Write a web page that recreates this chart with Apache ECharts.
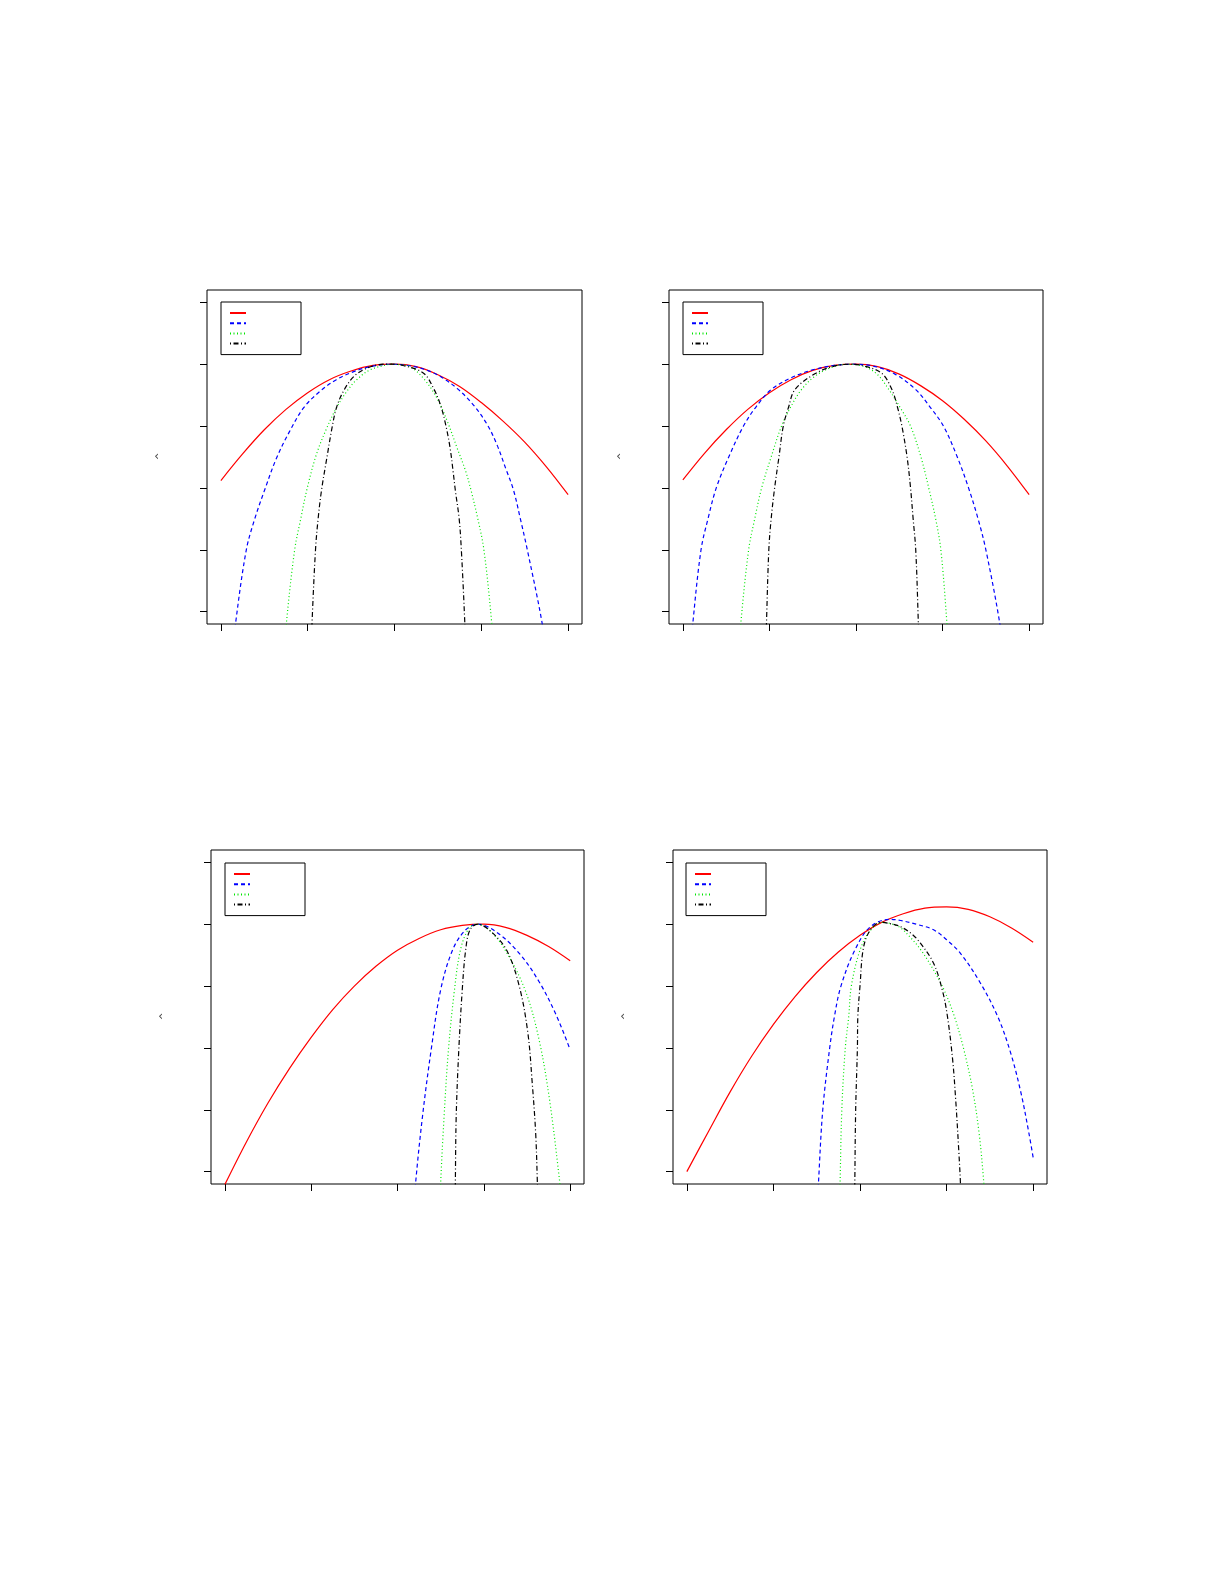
<!DOCTYPE html>
<html><head><meta charset="utf-8">
<script src="https://cdn.jsdelivr.net/npm/echarts@6/dist/echarts.min.js"></script>
<style>html,body{margin:0;padding:0;background:#fff}#c{width:1225px;height:1585px}</style>
</head><body><div id="c"></div>
<script>
// tick positions (labels are not shown in the reference)
const xTicks = [0, 1, 2, 3, 4];
const yTicks = [-4, -3, -2, -1, 0, 1];
const seriesNames = ['s1', 's2', 's3', 's4'];
const yAxisLabel = '‹';

// Panel 1 (top left)
const p1Red = [[0,-1.88],[0.25,-1.45],[0.5,-1.06],[0.75,-0.73],[1.0,-0.46],[1.25,-0.25],[1.5,-0.11],[1.75,-0.02],[2.0,0],[2.25,-0.04],[2.5,-0.17],[2.75,-0.36],[3.0,-0.62],[3.25,-0.92],[3.5,-1.26],[3.75,-1.66],[4.0,-2.11]];
const p1Blue = [[0.155,-4.5],[0.17,-4.18],[0.293,-3.0],[0.39,-2.5],[0.505,-2.03],[0.64,-1.52],[0.79,-1.09],[0.95,-0.71],[1.14,-0.44],[1.33,-0.25],[1.53,-0.12],[1.72,-0.04],[1.97,0],[2.2,-0.03],[2.38,-0.1],[2.53,-0.2],[2.72,-0.39],[2.91,-0.66],[3.07,-0.98],[3.18,-1.3],[3.28,-1.68],[3.37,-2.03],[3.45,-2.5],[3.53,-3.0],[3.70,-4.18],[3.72,-4.5]];
const p1Green = [[0.745,-4.5],[0.755,-4.18],[0.85,-3.0],[0.92,-2.5],[0.99,-2.03],[1.10,-1.46],[1.22,-1.03],[1.33,-0.71],[1.45,-0.44],[1.565,-0.25],[1.72,-0.09],[1.91,-0.01],[1.97,0],[2.05,-0.005],[2.18,-0.04],[2.335,-0.23],[2.49,-0.55],[2.61,-0.93],[2.72,-1.35],[2.82,-1.73],[2.88,-2.03],[2.96,-2.5],[3.03,-3.0],[3.12,-4.18],[3.13,-4.5]];
const p1Black = [[1.045,-4.5],[1.05,-4.18],[1.09,-3.0],[1.12,-2.5],[1.16,-2.03],[1.22,-1.52],[1.28,-1.03],[1.33,-0.71],[1.41,-0.44],[1.53,-0.2],[1.68,-0.065],[1.87,0],[1.97,0],[2.1,-0.02],[2.335,-0.145],[2.45,-0.39],[2.53,-0.66],[2.59,-0.98],[2.64,-1.35],[2.675,-1.73],[2.70,-2.03],[2.745,-2.5],[2.77,-3.0],[2.81,-4.18],[2.815,-4.5]];

// Panel 2 (top right)
const p2Red = [[0,-1.87],[0.25,-1.44],[0.5,-1.06],[0.75,-0.73],[1.0,-0.46],[1.25,-0.25],[1.5,-0.1],[1.75,-0.02],[2.0,0],[2.25,-0.04],[2.5,-0.16],[2.75,-0.35],[3.0,-0.59],[3.25,-0.89],[3.5,-1.24],[3.75,-1.65],[4.0,-2.11]];
const p2Blue = [[0.105,-4.5],[0.116,-4.18],[0.21,-3.0],[0.29,-2.5],[0.386,-2.0],[0.53,-1.5],[0.70,-1.0],[0.85,-0.68],[1.02,-0.41],[1.25,-0.22],[1.5,-0.09],[1.75,-0.02],[1.95,0],[2.2,-0.03],[2.45,-0.16],[2.69,-0.41],[2.86,-0.7],[3.01,-1.0],[3.17,-1.5],[3.30,-2.0],[3.41,-2.5],[3.50,-3.0],[3.66,-4.18],[3.68,-4.5]];
const p2Green = [[0.66,-4.5],[0.67,-4.18],[0.76,-3.0],[0.83,-2.5],[0.91,-2.0],[1.02,-1.5],[1.14,-1.0],[1.25,-0.68],[1.37,-0.41],[1.52,-0.2],[1.7,-0.06],[1.91,0],[2.1,-0.04],[2.25,-0.17],[2.38,-0.41],[2.51,-0.7],[2.63,-1.0],[2.75,-1.5],[2.84,-2.0],[2.92,-2.5],[2.98,-3.0],[3.05,-4.18],[3.06,-4.5]];
const p2Black = [[0.96,-4.5],[0.966,-4.18],[0.993,-3.0],[1.02,-2.5],[1.06,-2.0],[1.11,-1.5],[1.16,-1.0],[1.22,-0.7],[1.295,-0.41],[1.53,-0.15],[1.75,-0.03],[1.93,0],[2.1,-0.03],[2.30,-0.15],[2.415,-0.41],[2.48,-0.7],[2.53,-1.0],[2.59,-1.5],[2.63,-2.0],[2.66,-2.5],[2.69,-3.0],[2.72,-4.18],[2.725,-4.5]];

// Panel 3 (bottom left)
const p3Red = [[0,-4.21],[0.25,-3.52],[0.5,-2.89],[0.75,-2.33],[1.0,-1.83],[1.25,-1.38],[1.5,-1.0],[1.75,-0.68],[2.0,-0.42],[2.25,-0.23],[2.5,-0.09],[2.75,-0.02],[3.0,0],[3.25,-0.05],[3.5,-0.18],[3.75,-0.36],[4.0,-0.59]];
const p3Blue = [[2.2,-4.5],[2.21,-4.18],[2.29,-3.10],[2.39,-2.03],[2.50,-1.06],[2.64,-0.41],[2.79,-0.09],[2.93,0],[3.14,-0.12],[3.41,-0.47],[3.64,-0.93],[3.835,-1.46],[4.0,-2.03]];
const p3Green = [[2.495,-4.5],[2.50,-4.18],[2.54,-3.10],[2.59,-2.03],[2.66,-1.06],[2.73,-0.41],[2.83,-0.06],[2.93,0],[3.10,-0.145],[3.29,-0.52],[3.49,-1.11],[3.64,-1.87],[3.76,-2.83],[3.88,-4.18],[3.9,-4.5]];
const p3Black = [[2.668,-4.5],[2.67,-4.18],[2.68,-3.10],[2.71,-2.03],[2.75,-1.06],[2.79,-0.41],[2.84,-0.09],[2.93,0],[3.06,-0.09],[3.26,-0.41],[3.41,-1.0],[3.51,-1.76],[3.56,-2.56],[3.60,-3.37],[3.62,-4.18],[3.625,-4.5]];

// Panel 4 (bottom right)
const p4Red = [[0,-4.0],[0.25,-3.35],[0.5,-2.71],[0.75,-2.13],[1.0,-1.62],[1.25,-1.17],[1.5,-0.78],[1.75,-0.45],[2.0,-0.18],[2.25,0.03],[2.5,0.17],[2.75,0.26],[3.0,0.28],[3.25,0.24],[3.5,0.12],[3.75,-0.06],[4.0,-0.29]];
const p4Blue = [[1.51,-4.5],[1.52,-4.19],[1.57,-3.0],[1.65,-2.0],[1.705,-1.49],[1.78,-1.0],[1.94,-0.42],[2.12,-0.04],[2.35,0.08],[2.47,0.06],[2.65,0.0],[2.85,-0.09],[3.0,-0.25],[3.16,-0.47],[3.39,-0.95],[3.59,-1.49],[3.74,-2.08],[3.86,-2.73],[3.95,-3.37],[4.0,-3.77]];
const p4Green = [[1.765,-4.5],[1.77,-4.19],[1.79,-3.0],[1.83,-2.0],[1.87,-1.49],[1.90,-1.0],[2.0,-0.42],[2.12,-0.1],[2.26,0.03],[2.38,0.0],[2.47,-0.06],[2.58,-0.21],[2.70,-0.41],[2.85,-0.74],[2.97,-1.06],[3.09,-1.49],[3.20,-2.03],[3.30,-2.67],[3.375,-3.37],[3.43,-4.18],[3.44,-4.5]];
const p4Black = [[1.938,-4.5],[1.94,-4.19],[1.95,-3.0],[1.97,-2.0],[1.975,-1.49],[2.0,-1.0],[2.04,-0.38],[2.12,-0.09],[2.24,0.03],[2.38,0.0],[2.47,-0.04],[2.60,-0.16],[2.70,-0.31],[2.85,-0.63],[2.95,-1.06],[3.01,-1.49],[3.07,-2.19],[3.105,-2.83],[3.14,-3.64],[3.16,-4.18],[3.165,-4.5]];

const panelData = [
  [p1Red, p1Blue, p1Green, p1Black],
  [p2Red, p2Blue, p2Green, p2Black],
  [p3Red, p3Blue, p3Green, p3Black],
  [p4Red, p4Blue, p4Green, p4Black]
];

// layout / style (not data)
const grids = [
  {left: 207, top: 290, width: 375, height: 334},
  {left: 669, top: 290, width: 374, height: 334},
  {left: 211, top: 850, width: 373, height: 334},
  {left: 673, top: 850, width: 374, height: 334}
];
const legendPos = [
  {left: 221, top: 302},
  {left: 683, top: 302},
  {left: 225, top: 863},
  {left: 686, top: 863}
];
const lineStyles = [
  {color: '#ff0000', type: 'solid'},
  {color: '#0000ff', type: [4, 3]},
  {color: '#00e600', type: [1, 2.5]},
  {color: '#000000', type: [1, 2.5, 5, 2.5]}
];

const option = {
  backgroundColor: '#ffffff',
  animation: false,
  grid: [], xAxis: [], yAxis: [], series: [], legend: []
};

grids.forEach((g, i) => {
  option.grid.push(Object.assign({show: true, borderColor: '#000', borderWidth: 1, backgroundColor: 'transparent'}, g));
  option.xAxis.push({
    type: 'value', gridIndex: i, min: -0.16, max: 4.16, position: 'bottom',
    axisLine: {show: false, onZero: false},
    axisTick: {show: true, length: 7, customValues: xTicks, lineStyle: {color: '#000', width: 1}},
    axisLabel: {show: false}, splitLine: {show: false}
  });
  option.yAxis.push({
    type: 'value', gridIndex: i, min: -4.2, max: 1.2, position: 'left',
    name: yAxisLabel, nameLocation: 'middle', nameGap: 48, nameRotate: 0,
    nameTextStyle: {color: '#444', fontSize: 12, fontFamily: 'DejaVu Sans'},
    axisLine: {show: false, onZero: false},
    axisTick: {show: true, length: 7, customValues: yTicks, lineStyle: {color: '#000', width: 1}},
    axisLabel: {show: false}, splitLine: {show: false}
  });
  panelData[i].forEach((d, k) => {
    option.series.push({
      type: 'line', name: seriesNames[k], xAxisIndex: i, yAxisIndex: i,
      data: d, showSymbol: false, symbol: 'none', smooth: 0.35,
      clip: true,
      lineStyle: {color: lineStyles[k].color, type: lineStyles[k].type, width: 1.2},
      itemStyle: {color: lineStyles[k].color}
    });
  });
  option.legend.push({
    orient: 'vertical', left: legendPos[i].left, top: legendPos[i].top,
    padding: [6, 50, 6, 8], itemWidth: 16, itemHeight: 12.5, itemGap: 0.2,
    borderColor: '#000', borderWidth: 1, borderRadius: 0,
    selectedMode: false,
    itemStyle: {color: 'rgba(0,0,0,0)', borderColor: 'rgba(0,0,0,0)', borderWidth: 0, opacity: 0},
    formatter: function () { return ''; },
    textStyle: {fontSize: 10, lineHeight: 10},
    data: seriesNames.slice()
  });
});

const chart = echarts.init(document.getElementById('c'), null, {renderer: 'canvas'});
chart.setOption(option);
</script>
</body></html>
